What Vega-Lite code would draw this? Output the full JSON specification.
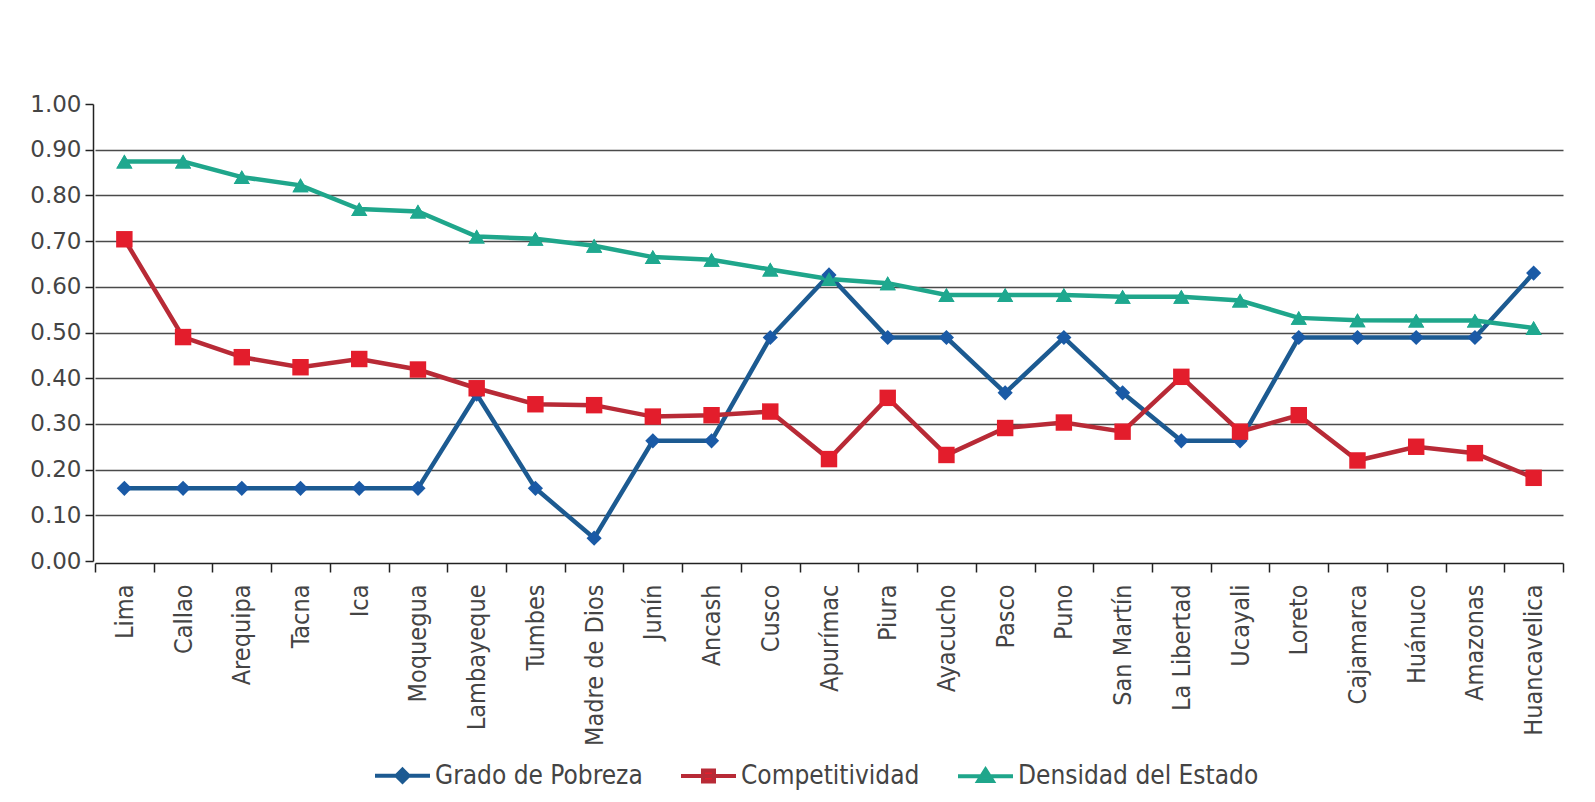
{
  "$schema": "https://vega.github.io/schema/vega-lite/v6.json",
  "width": 1468,
  "height": 457,
  "autosize": {"type": "none"},
  "padding": {"left": 95, "top": 104, "right": 32, "bottom": 241},
  "background": "white",
  "data": {
    "values": [
      {"region": "Lima", "serie": "Grado de Pobreza", "valor": 0.159},
      {"region": "Callao", "serie": "Grado de Pobreza", "valor": 0.159},
      {"region": "Arequipa", "serie": "Grado de Pobreza", "valor": 0.159},
      {"region": "Tacna", "serie": "Grado de Pobreza", "valor": 0.159},
      {"region": "Ica", "serie": "Grado de Pobreza", "valor": 0.159},
      {"region": "Moquegua", "serie": "Grado de Pobreza", "valor": 0.159},
      {"region": "Lambayeque", "serie": "Grado de Pobreza", "valor": 0.365},
      {"region": "Tumbes", "serie": "Grado de Pobreza", "valor": 0.159},
      {"region": "Madre de Dios", "serie": "Grado de Pobreza", "valor": 0.05},
      {"region": "Junín", "serie": "Grado de Pobreza", "valor": 0.263},
      {"region": "Ancash", "serie": "Grado de Pobreza", "valor": 0.263},
      {"region": "Cusco", "serie": "Grado de Pobreza", "valor": 0.489},
      {"region": "Apurímac", "serie": "Grado de Pobreza", "valor": 0.626},
      {"region": "Piura", "serie": "Grado de Pobreza", "valor": 0.489},
      {"region": "Ayacucho", "serie": "Grado de Pobreza", "valor": 0.489},
      {"region": "Pasco", "serie": "Grado de Pobreza", "valor": 0.368},
      {"region": "Puno", "serie": "Grado de Pobreza", "valor": 0.489},
      {"region": "San Martín", "serie": "Grado de Pobreza", "valor": 0.368},
      {"region": "La Libertad", "serie": "Grado de Pobreza", "valor": 0.263},
      {"region": "Ucayali", "serie": "Grado de Pobreza", "valor": 0.263},
      {"region": "Loreto", "serie": "Grado de Pobreza", "valor": 0.489},
      {"region": "Cajamarca", "serie": "Grado de Pobreza", "valor": 0.489},
      {"region": "Huánuco", "serie": "Grado de Pobreza", "valor": 0.489},
      {"region": "Amazonas", "serie": "Grado de Pobreza", "valor": 0.489},
      {"region": "Huancavelica", "serie": "Grado de Pobreza", "valor": 0.63},
      {"region": "Lima", "serie": "Competitividad", "valor": 0.704},
      {"region": "Callao", "serie": "Competitividad", "valor": 0.49},
      {"region": "Arequipa", "serie": "Competitividad", "valor": 0.446},
      {"region": "Tacna", "serie": "Competitividad", "valor": 0.424},
      {"region": "Ica", "serie": "Competitividad", "valor": 0.442},
      {"region": "Moquegua", "serie": "Competitividad", "valor": 0.419},
      {"region": "Lambayeque", "serie": "Competitividad", "valor": 0.378},
      {"region": "Tumbes", "serie": "Competitividad", "valor": 0.343},
      {"region": "Madre de Dios", "serie": "Competitividad", "valor": 0.341},
      {"region": "Junín", "serie": "Competitividad", "valor": 0.316},
      {"region": "Ancash", "serie": "Competitividad", "valor": 0.319},
      {"region": "Cusco", "serie": "Competitividad", "valor": 0.327},
      {"region": "Apurímac", "serie": "Competitividad", "valor": 0.223},
      {"region": "Piura", "serie": "Competitividad", "valor": 0.357},
      {"region": "Ayacucho", "serie": "Competitividad", "valor": 0.232},
      {"region": "Pasco", "serie": "Competitividad", "valor": 0.291},
      {"region": "Puno", "serie": "Competitividad", "valor": 0.303},
      {"region": "San Martín", "serie": "Competitividad", "valor": 0.283},
      {"region": "La Libertad", "serie": "Competitividad", "valor": 0.403},
      {"region": "Ucayali", "serie": "Competitividad", "valor": 0.283},
      {"region": "Loreto", "serie": "Competitividad", "valor": 0.319},
      {"region": "Cajamarca", "serie": "Competitividad", "valor": 0.22},
      {"region": "Huánuco", "serie": "Competitividad", "valor": 0.25},
      {"region": "Amazonas", "serie": "Competitividad", "valor": 0.236},
      {"region": "Huancavelica", "serie": "Competitividad", "valor": 0.182},
      {"region": "Lima", "serie": "Densidad del Estado", "valor": 0.874},
      {"region": "Callao", "serie": "Densidad del Estado", "valor": 0.874},
      {"region": "Arequipa", "serie": "Densidad del Estado", "valor": 0.84},
      {"region": "Tacna", "serie": "Densidad del Estado", "valor": 0.822},
      {"region": "Ica", "serie": "Densidad del Estado", "valor": 0.77},
      {"region": "Moquegua", "serie": "Densidad del Estado", "valor": 0.765},
      {"region": "Lambayeque", "serie": "Densidad del Estado", "valor": 0.71},
      {"region": "Tumbes", "serie": "Densidad del Estado", "valor": 0.705},
      {"region": "Madre de Dios", "serie": "Densidad del Estado", "valor": 0.69},
      {"region": "Junín", "serie": "Densidad del Estado", "valor": 0.665},
      {"region": "Ancash", "serie": "Densidad del Estado", "valor": 0.659},
      {"region": "Cusco", "serie": "Densidad del Estado", "valor": 0.638},
      {"region": "Apurímac", "serie": "Densidad del Estado", "valor": 0.617},
      {"region": "Piura", "serie": "Densidad del Estado", "valor": 0.608},
      {"region": "Ayacucho", "serie": "Densidad del Estado", "valor": 0.582},
      {"region": "Pasco", "serie": "Densidad del Estado", "valor": 0.582},
      {"region": "Puno", "serie": "Densidad del Estado", "valor": 0.582},
      {"region": "San Martín", "serie": "Densidad del Estado", "valor": 0.578},
      {"region": "La Libertad", "serie": "Densidad del Estado", "valor": 0.578},
      {"region": "Ucayali", "serie": "Densidad del Estado", "valor": 0.57},
      {"region": "Loreto", "serie": "Densidad del Estado", "valor": 0.532},
      {"region": "Cajamarca", "serie": "Densidad del Estado", "valor": 0.527},
      {"region": "Huánuco", "serie": "Densidad del Estado", "valor": 0.526},
      {"region": "Amazonas", "serie": "Densidad del Estado", "valor": 0.526},
      {"region": "Huancavelica", "serie": "Densidad del Estado", "valor": 0.51}
    ]
  },
  "encoding": {
    "x": {
      "field": "region",
      "type": "nominal",
      "sort": null,
      "scale": {"paddingInner": 0, "paddingOuter": 0},
      "axis": {
        "title": null,
        "offset": 2,
        "labelAngle": -90,
        "labelFont": "DejaVu Sans Condensed, DejaVu Sans, sans-serif",
        "labelFontSize": 25,
        "labelColor": "#444444",
        "labelPadding": 12,
        "tickBand": "extent",
        "tickSize": 9,
        "tickColor": "#222222",
        "tickWidth": 1.5,
        "domainColor": "#222222",
        "domainWidth": 1.5,
        "grid": false
      }
    }
  },
  "resolve": {"scale": {"y": "independent"}},
  "layer": [
    {
      "transform": [{"filter": "datum.serie === 'Densidad del Estado'"}],
      "mark": {"type": "point", "filled": true, "opacity": 1, "shape": "triangle-up", "size": 260, "fill": "#1fa88f"},
      "encoding": {
        "y": {
          "field": "valor",
          "type": "quantitative",
          "scale": {"domain": [0, 1], "nice": false},
          "axis": {
            "title": null,
            "orient": "left",
            "values": [0.1, 0.2, 0.3, 0.4, 0.5, 0.6, 0.7, 0.8, 0.9],
            "labels": false,
            "ticks": false,
            "domain": false,
            "grid": true,
            "gridWidth": 1.3,
            "gridColor": "#4a4a4a",
            "zindex": 0
          }
        }
      }
    },
    {
      "mark": {"type": "line", "strokeWidth": 4.5},
      "encoding": {
        "y": {
          "field": "valor",
          "type": "quantitative",
          "scale": {"domain": [0, 1], "nice": false},
          "axis": {
            "title": null,
            "orient": "left",
            "offset": 2,
            "values": [0, 0.1, 0.2, 0.3, 0.4, 0.5, 0.6, 0.7, 0.8, 0.9, 1],
            "format": ".2f",
            "labelFont": "DejaVu Sans, sans-serif",
            "labelFontSize": 23,
            "labelColor": "#444444",
            "labelPadding": 4,
            "tickSize": 8,
            "tickColor": "#222222",
            "tickWidth": 1.5,
            "domainColor": "#222222",
            "domainWidth": 1.5,
            "grid": false
          }
        },
        "stroke": {
          "field": "serie",
          "type": "nominal",
          "scale": {
            "domain": ["Grado de Pobreza", "Competitividad", "Densidad del Estado"],
            "range": ["#1c5a91", "#b82a36", "#1fa68b"]
          },
          "legend": {
            "title": null,
            "orient": "none",
            "direction": "horizontal",
            "legendX": 278,
            "legendY": 642,
            "padding": 0,
            "columnPadding": 30,
            "labelOffset": 3,
            "labelLimit": 600,
            "labelFont": "DejaVu Sans Condensed, DejaVu Sans, sans-serif",
            "labelFontSize": 26,
            "labelColor": "#444444",
            "symbolSize": 3025,
            "symbolStrokeWidth": 4,
            "encode": {
              "symbols": {
                "update": {
                  "shape": {"signal": "datum.value === 'Grado de Pobreza' ? 'M-1,0H1M0,-0.22L0.22,0L0,0.22L-0.22,0Z' : datum.value === 'Competitividad' ? 'M-1,0H1M-0.2,-0.2H0.2V0.2H-0.2Z' : 'M-1,0H1M0,-0.24L0.26,0.17H-0.26Z'"},
                  "stroke": {"signal": "datum.value === 'Grado de Pobreza' ? '#1c5a91' : datum.value === 'Competitividad' ? '#b82a36' : '#1fa68b'"},
                  "fill": {"signal": "datum.value === 'Grado de Pobreza' ? '#1a5aa6' : datum.value === 'Competitividad' ? '#e31d2c' : '#1fa88f'"},
                  "fillOpacity": {"value": 1},
                  "strokeWidth": {"value": 4}
                }
              }
            }
          }
        }
      }
    },
    {
      "transform": [{"filter": "datum.serie === 'Grado de Pobreza'"}],
      "mark": {"type": "point", "filled": true, "opacity": 1, "shape": "diamond", "size": 230, "fill": "#1a5aa6"},
      "encoding": {
        "y": {"field": "valor", "type": "quantitative", "scale": {"domain": [0, 1], "nice": false}, "axis": null}
      }
    },
    {
      "transform": [{"filter": "datum.serie === 'Competitividad'"}],
      "mark": {"type": "point", "filled": true, "opacity": 1, "shape": "square", "size": 270, "fill": "#e31d2c"},
      "encoding": {
        "y": {"field": "valor", "type": "quantitative", "scale": {"domain": [0, 1], "nice": false}, "axis": null}
      }
    },
    {
      "transform": [{"filter": "datum.serie === 'Densidad del Estado'"}],
      "mark": {"type": "point", "filled": true, "opacity": 1, "shape": "triangle-up", "size": 260, "fill": "#1fa88f"},
      "encoding": {
        "y": {"field": "valor", "type": "quantitative", "scale": {"domain": [0, 1], "nice": false}, "axis": null}
      }
    }
  ],
  "config": {
    "view": {"stroke": "#ffffff", "strokeWidth": 2.5}
  }
}
